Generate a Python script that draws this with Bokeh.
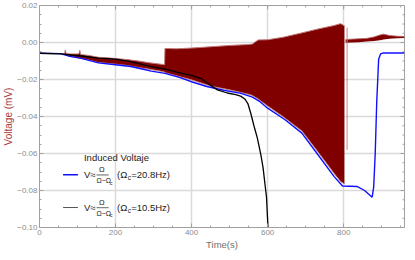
from bokeh.plotting import figure
from bokeh.models import Range1d, Label, FixedTicker
from bokeh.embed import file_html
from bokeh.resources import INLINE

# ---- data ----
t_blue = [0, 55, 80, 110, 155, 200, 240, 270, 294, 330, 370, 400, 440, 485, 530, 560, 580,
          600, 645, 690, 730, 775, 797, 835, 855, 875, 879, 883, 887, 892, 897, 903, 960]
v_blue = [-0.0058, -0.0060, -0.0075, -0.0086, -0.0110, -0.0120, -0.0130, -0.0143, -0.0155,
          -0.0167, -0.0190, -0.0212, -0.0238, -0.0258, -0.0275, -0.0295, -0.0320,
          -0.0355, -0.0416, -0.0490, -0.0600, -0.0725, -0.0776, -0.0778, -0.0800, -0.0836,
          -0.0780, -0.0600, -0.0320, -0.0090, -0.0062, -0.0057, -0.0057]

t_black = [0, 55, 110, 155, 200, 240, 267, 294, 328, 372, 400, 425, 442, 468, 494, 516, 529,
           540, 548, 556, 564, 573, 582, 588, 593, 597, 601, 603]
v_black = [-0.0058, -0.0061, -0.0073, -0.0085, -0.0090, -0.0103, -0.0117, -0.0130, -0.0142,
           -0.0165, -0.0178, -0.0195, -0.0220, -0.0256, -0.0273, -0.0282, -0.0290,
           -0.0305, -0.0330, -0.0385, -0.0450, -0.0517, -0.0605, -0.0676, -0.0765, -0.0835,
           -0.1000, -0.1050]

t_red = [60, 66, 68, 70, 80, 100, 104, 106, 108, 130, 155, 180, 200, 230, 260, 290, 310, 329,
         330, 360, 400, 450, 500, 550, 560, 575, 600, 640, 690, 730, 775, 792, 802]
red_hi = [-0.0062, -0.0060, -0.0040, -0.0060, -0.0062, -0.0062, -0.0060, -0.0042, -0.0065,
          -0.0070, -0.0080, -0.0083, -0.0087, -0.0092, -0.0100, -0.0110, -0.0115, -0.0120,
          -0.0032, -0.0034, -0.0030, -0.0023, -0.0016, -0.0011, -0.0008, 0.0014, 0.0015,
          0.0028, 0.0052, 0.0072, 0.0092, 0.0102, 0.0090]
red_lo = [-0.0064, -0.0065, -0.0066, -0.0067, -0.0075, -0.0082, -0.0084, -0.0085, -0.0086,
          -0.0095, -0.0108, -0.0113, -0.0117, -0.0124, -0.0135, -0.0145, -0.0152, -0.0160,
          -0.0163, -0.0180, -0.0202, -0.0236, -0.0256, -0.0280, -0.0287, -0.0305, -0.0343,
          -0.0400, -0.0478, -0.0585, -0.0708, -0.0752, -0.0765]

t_red2 = [805, 820, 840, 860, 880, 895, 905, 920, 940, 960]
red2_hi = [0.0016, 0.0018, 0.0020, 0.0022, 0.0030, 0.0040, 0.0045, 0.0038, 0.0034, 0.0032]
red2_lo = [-0.0002, 0.0000, 0.0002, 0.0005, 0.0008, 0.0012, 0.0016, 0.0020, 0.0023, 0.0024]

spike_t = [809]
spike_top = [0.0080]
spike_bot = [-0.0580]

x_ticks = [0, 200, 400, 600, 800]
x_minor = [v for v in range(0, 961, 50)]
y_ticks = [-0.10, -0.08, -0.06, -0.04, -0.02, 0.00, 0.02]
y_minor = [round(-0.10 + 0.005 * i, 4) for i in range(25)]
y_labels = {-0.10: "\u22120.10", -0.08: "\u22120.08", -0.06: "\u22120.06", -0.04: "\u22120.04",
            -0.02: "\u22120.02", 0.00: "0.00", 0.02: "0.02"}

legend_title = "Induced Voltaje"
legend_c = ["20.8Hz", "10.5Hz"]

FONT = "Liberation Sans"
FRAME = "#a0a0a0"
TICKC = "#8c8c8c"
X0, X1, Y0, Y1 = 0, 960, -0.10, 0.02

p = figure(width=407, height=252, output_backend="svg", toolbar_location=None,
           x_range=Range1d(X0, X1), y_range=Range1d(Y0, Y1),
           min_border_left=3, min_border_right=3, min_border_top=5, min_border_bottom=1)
p.background_fill_color = "white"
p.border_fill_color = "white"
p.outline_line_color = FRAME

# grid
p.xgrid.ticker = FixedTicker(ticks=x_ticks)
p.ygrid.ticker = FixedTicker(ticks=y_ticks)
for g in (p.xgrid, p.ygrid):
    g.grid_line_color = "#dadada"
    g.grid_line_width = 1.5

for ax in (p.xaxis[0], p.yaxis[0]):
    ax.axis_line_color = FRAME
    ax.major_tick_line_color = FRAME
    ax.minor_tick_line_color = FRAME
    ax.major_tick_in = 4
    ax.major_tick_out = 0
    ax.minor_tick_in = 2
    ax.minor_tick_out = 0
    ax.major_label_text_font = FONT
    ax.major_label_text_color = TICKC
    ax.major_label_text_font_size = "8px"
    ax.major_label_standoff = 2
    ax.axis_label_text_font = FONT
    ax.axis_label_text_font_style = "normal"

p.xaxis.ticker = FixedTicker(ticks=x_ticks, minor_ticks=x_minor)
p.yaxis.ticker = FixedTicker(ticks=y_ticks, minor_ticks=y_minor)
p.yaxis.major_label_overrides = y_labels
p.xaxis.axis_label = "Time(s)"
p.xaxis.axis_label_text_font_size = "9.5px"
p.xaxis.axis_label_text_color = "#707070"
p.xaxis.axis_label_standoff = 1
p.yaxis.axis_label = "Voltage (mV)"
p.yaxis.axis_label_text_font_size = "10px"
p.yaxis.axis_label_text_color = "#a83a3a"
p.yaxis.axis_label_standoff = 0

# mirrored frame ticks on top and right (inward)
xt_len, yt_len = 10.5, 0.00215
p.segment(x0=x_ticks, y0=[Y1] * len(x_ticks), x1=x_ticks, y1=[Y1 - yt_len] * len(x_ticks),
          line_color=FRAME, line_width=1)
p.segment(x0=x_minor, y0=[Y1] * len(x_minor), x1=x_minor, y1=[Y1 - yt_len / 2] * len(x_minor),
          line_color=FRAME, line_width=1)
p.segment(x0=[X1] * len(y_ticks), y0=y_ticks, x1=[X1 - xt_len] * len(y_ticks), y1=y_ticks,
          line_color=FRAME, line_width=1)
p.segment(x0=[X1] * len(y_minor), y0=y_minor, x1=[X1 - xt_len / 2] * len(y_minor), y1=y_minor,
          line_color=FRAME, line_width=1)

# red oscillating signal (envelope)
p.varea(x=t_red, y1=red_lo, y2=red_hi, fill_color="#800000")
p.line(t_red, red_hi, line_color="#c07a7a", line_width=1)
p.line(t_red, red_lo, line_color="#c48484", line_width=1)
p.varea(x=t_red2, y1=red2_lo, y2=red2_hi, fill_color="#800000")
p.line(t_red2, red2_hi, line_color="#b06060", line_width=0.8)
p.segment(x0=spike_t, y0=spike_top, x1=spike_t, y1=spike_bot, line_color="#c88080", line_width=1)

# model curves
p.line(t_blue, v_blue, line_color="#1010ff", line_width=1.4)
p.line(t_black, v_black, line_color="#000000", line_width=1.3)

# legend (manual, with fraction)
def lab(x, y, text, size="9.5px", align="left", color="#222222"):
    p.add_layout(Label(x=x, y=y, text=text, text_font=FONT, text_font_size=size,
                       text_color=color, text_align=align, text_baseline="middle"))

lab(117, -0.0619, legend_title)
for i, (c, col, w) in enumerate(zip(legend_c, ["#1010ff", "#555555"], [1.4, 1.0])):
    y = -0.0715 - i * 0.0177
    p.line([62, 101], [y, y], line_color=col, line_width=w)
    lab(117, y, "V\u2248")
    lab(164, y + 0.0028, "\u03a9", size="7.5px", align="center")
    p.line([150, 182], [y - 0.0001, y - 0.0001], line_color="#222222", line_width=0.7)
    lab(150, y - 0.0032, "\u03a9\u2212\u03a9", size="7px")
    lab(185, y - 0.0042, "c", size="5.5px")
    lab(204, y, "(\u03a9")
    lab(232, y - 0.0016, "c", size="6.5px")
    lab(241, y, "=" + c + ")")

open("out.html", "w").write(file_html(p, INLINE))
